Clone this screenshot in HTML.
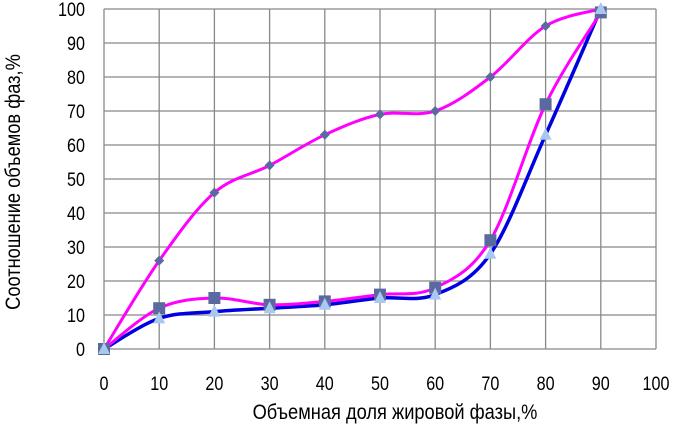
<!DOCTYPE html>
<html><head><meta charset="utf-8"><style>
body{margin:0;background:#fff}
svg text{font-family:"Liberation Sans",sans-serif;font-size:19px;fill:#000}
</style></head><body>
<svg id="s" width="673" height="428" xmlns="http://www.w3.org/2000/svg"></svg>
<script>
const s=document.getElementById('s');
const X0=104,X1=656,Y0=349,Y1=9;
const px=v=>X0+(X1-X0)*v/100, py=v=>Y0-(Y0-Y1)*v/100;
let h='';
for(let i=0;i<=10;i++){
 h+=`<line x1="${px(i*10)}" y1="${Y1}" x2="${px(i*10)}" y2="${Y0}" stroke="#888" stroke-width="1.3"/>`;
 h+=`<line x1="${X0}" y1="${py(i*10)}" x2="${X1}" y2="${py(i*10)}" stroke="#888" stroke-width="1.3"/>`;
 h+=`<text x="${px(i*10)}" y="390" text-anchor="middle" transform="translate(${px(i*10)},0) scale(0.85,1) translate(${-px(i*10)},0)">${i*10}</text>`;
 h+=`<text x="85" y="${py(i*10)+7}" text-anchor="end" transform="translate(85,0) scale(0.85,1) translate(-85,0)">${i*10}</text>`;
}
h+=`<text x="395" y="419" text-anchor="middle" style="font-size:21px" transform="translate(395,0) scale(0.87,1) translate(-395,0)">Объемная доля жировой фазы,%</text>`;
h+=`<text x="0" y="0" text-anchor="middle" style="font-size:21px" transform="translate(20,182) rotate(-90) scale(0.87,1)">Соотношение объемов фаз,%</text>`;
const xs=[0,10,20,30,40,50,60,70,80,90];
const A=[0,26,46,54,63,69,70,80,95,100],B=[0,12,15,13,14,16,18,32,72,99],C=[0,9,11,12,13,15,16,28,63,100];
function path(d){const p=xs.map((x,i)=>[px(x),py(d[i])]);let r=`M${p[0]}`;
 for(let i=0;i<p.length-1;i++){const a=p[i-1]||p[i],b=p[i],c=p[i+1],e=p[i+2]||c;
 r+=`C${b[0]+(c[0]-a[0])/6},${b[1]+(c[1]-a[1])/6} ${c[0]-(e[0]-b[0])/6},${c[1]-(e[1]-b[1])/6} ${c[0]},${c[1]}`;}return r;}
h+=`<path d="${path(C)}" fill="none" stroke="#0000e0" stroke-width="3.5"/>`;
h+=`<path d="${path(B)}" fill="none" stroke="#ff00ff" stroke-width="3"/>`;
h+=`<path d="${path(A)}" fill="none" stroke="#ff00ff" stroke-width="3"/>`;
xs.forEach((x,i)=>{const X=px(x);
 let Y=py(A[i]);h+=`<polygon points="${X},${Y-5} ${X+5},${Y} ${X},${Y+5} ${X-5},${Y}" fill="#5a6aa0"/>`;
 Y=py(B[i]);h+=`<rect x="${X-6}" y="${Y-6}" width="12" height="12" fill="#5a6aa0"/>`;
 Y=py(C[i]);h+=`<polygon points="${X},${Y-7} ${X+6},${Y+5} ${X-6},${Y+5}" fill="#a8c8f0"/>`;
});
s.innerHTML=h;
</script>
</body></html>
